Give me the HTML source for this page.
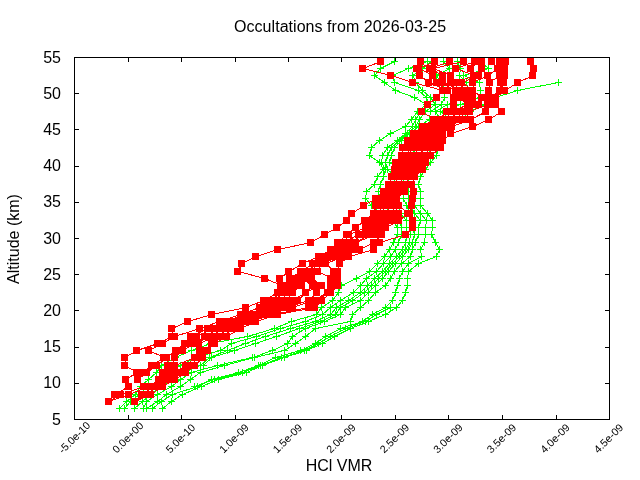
<!DOCTYPE html>
<html><head><meta charset="utf-8"><title>Occultations from 2026-03-25</title>
<style>html,body{margin:0;padding:0;background:#fff;overflow:hidden}svg{display:block}text{font-family:"Liberation Sans",sans-serif;fill:#000}</style></head><body>
<svg width="640" height="480" viewBox="0 0 640 480">
<rect width="640" height="480" fill="#fff"/>
<g stroke="#000" stroke-width="1" fill="none" shape-rendering="crispEdges"><path d="M74.5 383.5h4.5 M609.5 383.5h-4.5"/><path d="M128.5 419.5v-4.5 M128.5 57.5v4.5"/><path d="M74.5 347.5h4.5 M609.5 347.5h-4.5"/><path d="M181.5 419.5v-4.5 M181.5 57.5v4.5"/><path d="M74.5 310.5h4.5 M609.5 310.5h-4.5"/><path d="M235.5 419.5v-4.5 M235.5 57.5v4.5"/><path d="M74.5 274.5h4.5 M609.5 274.5h-4.5"/><path d="M288.5 419.5v-4.5 M288.5 57.5v4.5"/><path d="M74.5 238.5h4.5 M609.5 238.5h-4.5"/><path d="M341.5 419.5v-4.5 M341.5 57.5v4.5"/><path d="M74.5 202.5h4.5 M609.5 202.5h-4.5"/><path d="M395.5 419.5v-4.5 M395.5 57.5v4.5"/><path d="M74.5 166.5h4.5 M609.5 166.5h-4.5"/><path d="M448.5 419.5v-4.5 M448.5 57.5v4.5"/><path d="M74.5 129.5h4.5 M609.5 129.5h-4.5"/><path d="M502.5 419.5v-4.5 M502.5 57.5v4.5"/><path d="M74.5 93.5h4.5 M609.5 93.5h-4.5"/><path d="M556.5 419.5v-4.5 M556.5 57.5v4.5"/></g>
<defs><clipPath id="c"><rect x="74" y="57" width="536" height="363"/></clipPath></defs>
<g clip-path="url(#c)" shape-rendering="crispEdges"><path d="M119.5 408.5 L126.5 401.5 L135.5 394.5 L140.5 386.5 L148.5 379.5 L156.5 372.5 L161.5 365.5 L175.5 357.5 L191.5 350.5 L210.5 343.5 L247.5 336.5 L274.5 328.5 L291.5 321.5 L316.5 314.5 L321.5 307.5 L332.5 300.5 L338.5 292.5 L341.5 285.5 L356.5 278.5 L369.5 271.5 L377.5 263.5 L384.5 256.5 L389.5 249.5 L393.5 242.5 L397.5 234.5 L397.5 227.5 L392.5 220.5 L380.5 213.5 L371.5 205.5 L365.5 198.5 L366.5 191.5 L374.5 184.5 L377.5 176.5 L383.5 169.5 L379.5 162.5 L369.5 155.5 L371.5 147.5 L379.5 140.5 L390.5 133.5 L405.5 126.5 L411.5 119.5 L417.5 111.5 L426.5 104.5 L414.5 97.5 L395.5 90.5 L384.5 82.5 L374.5 75.5 L380.5 68.5 L394.5 61.5M124.5 408.5 L130.5 401.5 L139.5 394.5 L147.5 386.5 L160.5 379.5 L170.5 372.5 L180.5 365.5 L195.5 357.5 L220.5 350.5 L231.5 343.5 L256.5 336.5 L280.5 328.5 L305.5 321.5 L322.5 314.5 L330.5 307.5 L340.5 300.5 L353.5 292.5 L360.5 285.5 L366.5 278.5 L376.5 271.5 L383.5 263.5 L390.5 256.5 L395.5 249.5 L398.5 242.5 L401.5 234.5 L401.5 227.5 L398.5 220.5 L390.5 213.5 L385.5 205.5 L380.5 198.5 L378.0 191.5 L380.5 184.5 L383.5 176.5 L385.5 169.5 L381.5 162.5 L382.5 155.5 L387.5 147.5 L397.5 140.5 L405.5 133.5 L412.5 126.5 L415.5 119.5 L421.5 111.5 L428.5 104.5 L426.5 97.5 L418.5 90.5 L394.5 82.5 L392.5 75.5 L408.5 68.5 L427.5 61.5M134.5 408.5 L142.5 401.5 L150.5 394.5 L160.5 386.5 L172.5 379.5 L183.5 372.5 L200.5 365.5 L209.5 357.5 L227.5 350.5 L245.5 343.5 L265.5 336.5 L290.5 328.5 L315.5 321.5 L330.5 314.5 L336.5 307.5 L348.5 300.5 L360.5 292.5 L367.5 285.5 L374.5 278.5 L382.5 271.5 L389.5 263.5 L396.5 256.5 L402.5 249.5 L405.5 242.5 L407.5 234.5 L406.5 227.5 L406.5 220.5 L400.5 213.5 L398.5 205.5 L395.5 198.5 L392.5 191.5 L393.5 184.5 L395.5 176.5 L387.5 169.5 L385.5 162.5 L387.5 155.5 L391.5 147.5 L399.5 140.5 L407.5 133.5 L415.5 126.5 L419.5 119.5 L425.5 111.5 L435.5 104.5 L430.5 97.5 L422.5 90.5 L415.5 82.5 L413.0 75.5 L422.5 68.5 L431.5 61.5M143.5 408.5 L146.5 401.5 L157.5 394.5 L171.5 386.5 L180.5 379.5 L191.5 372.5 L217.5 365.5 L252.5 357.5 L272.5 350.5 L287.5 343.5 L292.5 336.5 L305.5 328.5 L324.5 321.5 L340.5 314.5 L345.5 307.5 L360.5 300.5 L368.5 292.5 L375.5 285.5 L382.5 278.5 L388.5 271.5 L395.5 263.5 L402.5 256.5 L408.5 249.5 L412.5 242.5 L414.5 234.5 L412.5 227.5 L413.5 220.5 L410.5 213.5 L406.5 205.5 L403.5 198.5 L402.5 191.5 L402.5 184.5 L404.5 176.5 L400.5 169.5 L389.5 162.5 L391.5 155.5 L394.5 147.5 L401.5 140.5 L409.5 133.5 L418.5 126.5 L429.5 119.5 L430.5 111.5 L441.5 104.5 L444.5 97.5 L445.5 90.5 L440.5 82.5 L436.5 75.5 L449.5 68.5 L443.5 61.5M146.5 408.5 L157.5 401.5 L166.5 394.5 L180.5 386.5 L190.5 379.5 L200.5 372.5 L224.5 365.5 L254.5 357.5 L284.5 350.5 L295.5 343.5 L305.5 336.5 L315.5 328.5 L350.5 321.5 L352.5 314.5 L360.5 307.5 L368.5 300.5 L375.5 292.5 L385.5 285.5 L390.5 278.5 L394.5 271.5 L401.5 263.5 L410.5 256.5 L412.5 249.5 L415.5 242.5 L418.5 234.5 L418.5 227.5 L420.5 220.5 L414.5 213.5 L410.5 205.5 L408.5 198.5 L408.5 191.5 L408.5 184.5 L409.5 176.5 L412.5 169.5 L410.5 162.5 L412.5 155.5 L415.5 147.5 L420.5 140.5 L425.5 133.5 L432.5 126.5 L440.5 119.5 L435.5 111.5 L447.5 104.5 L465.5 97.5 L468.0 90.5 L466.5 82.5 L459.5 75.5 L460.5 68.5 L457.5 61.5M152.5 408.5 L161.5 401.5 L172.5 394.5 L197.5 386.5 L211.5 379.5 L238.5 372.5 L258.5 365.5 L275.5 357.5 L300.5 350.5 L315.5 343.5 L325.5 336.5 L340.5 328.5 L362.5 321.5 L372.5 314.5 L385.5 307.5 L392.5 300.5 L395.5 292.5 L397.5 285.5 L399.5 278.5 L402.5 271.5 L408.5 263.5 L421.5 256.5 L420.5 249.5 L424.5 242.5 L425.5 234.5 L425.5 227.5 L426.5 220.5 L420.5 213.5 L414.5 205.5 L413.5 198.5 L413.5 191.5 L412.5 184.5 L414.5 176.5 L419.5 169.5 L422.5 162.5 L428.5 155.5 L430.5 147.5 L432.5 140.5 L436.5 133.5 L440.5 126.5 L450.5 119.5 L440.5 111.5 L460.5 104.5 L480.5 97.5 L480.5 90.5 L479.5 82.5 L463.5 75.5 L488.5 68.5 L480.5 61.5M162.5 408.5 L171.5 401.5 L182.5 394.5 L201.5 386.5 L218.5 379.5 L246.5 372.5 L262.5 365.5 L284.5 357.5 L306.5 350.5 L322.5 343.5 L334.5 336.5 L350.5 328.5 L368.5 321.5 L385.5 314.5 L396.5 307.5 L402.5 300.5 L405.5 292.5 L407.5 285.5 L407.5 278.5 L408.5 271.5 L418.5 263.5 L436.5 256.5 L439.5 249.5 L435.5 242.5 L431.5 234.5 L432.5 227.5 L432.5 220.5 L427.5 213.5 L420.5 205.5 L420.5 198.5 L420.5 191.5 L418.5 184.5 L420.5 176.5 L425.5 169.5 L430.5 162.5 L436.5 155.5 L438.5 147.5 L440.5 140.5 L442.5 133.5 L448.5 126.5 L460.5 119.5 L470.5 111.5 L484.5 104.5 L495.5 97.5 L517.5 90.5 L558.5 82.5M203.5 365.5 L211.5 357.5 L234.5 350.5 L255.5 343.5 L276.5 336.5 L299.5 328.5 L320.5 321.5 L335.5 314.5 L340.5 307.5 L352.5 300.5 L364.5 292.5 L371.5 285.5 L378.5 278.5 L385.5 271.5 L392.5 263.5 L399.5 256.5 L405.5 249.5 L409.5 242.5 L410.5 234.5M194.5 386.5 L214.5 379.5 L242.5 372.5 L260.5 365.5 L281.5 357.5 L304.5 350.5 L318.5 343.5 L330.5 336.5 L345.5 328.5 L365.5 321.5 L376.5 314.5 L390.5 307.5M116 408.5h7M119.5 405v7M123 401.5h7M126.5 398v7M132 394.5h7M135.5 391v7M137 386.5h7M140.5 383v7M145 379.5h7M148.5 376v7M153 372.5h7M156.5 369v7M158 365.5h7M161.5 362v7M172 357.5h7M175.5 354v7M188 350.5h7M191.5 347v7M207 343.5h7M210.5 340v7M244 336.5h7M247.5 333v7M271 328.5h7M274.5 325v7M288 321.5h7M291.5 318v7M313 314.5h7M316.5 311v7M318 307.5h7M321.5 304v7M329 300.5h7M332.5 297v7M335 292.5h7M338.5 289v7M338 285.5h7M341.5 282v7M353 278.5h7M356.5 275v7M366 271.5h7M369.5 268v7M374 263.5h7M377.5 260v7M381 256.5h7M384.5 253v7M386 249.5h7M389.5 246v7M390 242.5h7M393.5 239v7M394 234.5h7M397.5 231v7M394 227.5h7M397.5 224v7M389 220.5h7M392.5 217v7M377 213.5h7M380.5 210v7M368 205.5h7M371.5 202v7M362 198.5h7M365.5 195v7M363 191.5h7M366.5 188v7M371 184.5h7M374.5 181v7M374 176.5h7M377.5 173v7M380 169.5h7M383.5 166v7M376 162.5h7M379.5 159v7M366 155.5h7M369.5 152v7M368 147.5h7M371.5 144v7M376 140.5h7M379.5 137v7M387 133.5h7M390.5 130v7M402 126.5h7M405.5 123v7M408 119.5h7M411.5 116v7M414 111.5h7M417.5 108v7M423 104.5h7M426.5 101v7M411 97.5h7M414.5 94v7M392 90.5h7M395.5 87v7M381 82.5h7M384.5 79v7M371 75.5h7M374.5 72v7M377 68.5h7M380.5 65v7M391 61.5h7M394.5 58v7M121 408.5h7M124.5 405v7M127 401.5h7M130.5 398v7M136 394.5h7M139.5 391v7M144 386.5h7M147.5 383v7M157 379.5h7M160.5 376v7M167 372.5h7M170.5 369v7M177 365.5h7M180.5 362v7M192 357.5h7M195.5 354v7M217 350.5h7M220.5 347v7M228 343.5h7M231.5 340v7M253 336.5h7M256.5 333v7M277 328.5h7M280.5 325v7M302 321.5h7M305.5 318v7M319 314.5h7M322.5 311v7M327 307.5h7M330.5 304v7M337 300.5h7M340.5 297v7M350 292.5h7M353.5 289v7M357 285.5h7M360.5 282v7M363 278.5h7M366.5 275v7M373 271.5h7M376.5 268v7M380 263.5h7M383.5 260v7M387 256.5h7M390.5 253v7M392 249.5h7M395.5 246v7M395 242.5h7M398.5 239v7M398 234.5h7M401.5 231v7M398 227.5h7M401.5 224v7M395 220.5h7M398.5 217v7M387 213.5h7M390.5 210v7M382 205.5h7M385.5 202v7M377 198.5h7M380.5 195v7M375 191.5h7M378.5 188v7M377 184.5h7M380.5 181v7M380 176.5h7M383.5 173v7M382 169.5h7M385.5 166v7M378 162.5h7M381.5 159v7M379 155.5h7M382.5 152v7M384 147.5h7M387.5 144v7M394 140.5h7M397.5 137v7M402 133.5h7M405.5 130v7M409 126.5h7M412.5 123v7M412 119.5h7M415.5 116v7M418 111.5h7M421.5 108v7M425 104.5h7M428.5 101v7M423 97.5h7M426.5 94v7M415 90.5h7M418.5 87v7M391 82.5h7M394.5 79v7M389 75.5h7M392.5 72v7M405 68.5h7M408.5 65v7M424 61.5h7M427.5 58v7M131 408.5h7M134.5 405v7M139 401.5h7M142.5 398v7M147 394.5h7M150.5 391v7M157 386.5h7M160.5 383v7M169 379.5h7M172.5 376v7M180 372.5h7M183.5 369v7M197 365.5h7M200.5 362v7M206 357.5h7M209.5 354v7M224 350.5h7M227.5 347v7M242 343.5h7M245.5 340v7M262 336.5h7M265.5 333v7M287 328.5h7M290.5 325v7M312 321.5h7M315.5 318v7M327 314.5h7M330.5 311v7M333 307.5h7M336.5 304v7M345 300.5h7M348.5 297v7M357 292.5h7M360.5 289v7M364 285.5h7M367.5 282v7M371 278.5h7M374.5 275v7M379 271.5h7M382.5 268v7M386 263.5h7M389.5 260v7M393 256.5h7M396.5 253v7M399 249.5h7M402.5 246v7M402 242.5h7M405.5 239v7M404 234.5h7M407.5 231v7M403 227.5h7M406.5 224v7M403 220.5h7M406.5 217v7M397 213.5h7M400.5 210v7M395 205.5h7M398.5 202v7M392 198.5h7M395.5 195v7M389 191.5h7M392.5 188v7M390 184.5h7M393.5 181v7M392 176.5h7M395.5 173v7M384 169.5h7M387.5 166v7M382 162.5h7M385.5 159v7M384 155.5h7M387.5 152v7M388 147.5h7M391.5 144v7M396 140.5h7M399.5 137v7M404 133.5h7M407.5 130v7M412 126.5h7M415.5 123v7M416 119.5h7M419.5 116v7M422 111.5h7M425.5 108v7M432 104.5h7M435.5 101v7M427 97.5h7M430.5 94v7M419 90.5h7M422.5 87v7M412 82.5h7M415.5 79v7M409 75.5h7M412.5 72v7M419 68.5h7M422.5 65v7M428 61.5h7M431.5 58v7M140 408.5h7M143.5 405v7M143 401.5h7M146.5 398v7M154 394.5h7M157.5 391v7M168 386.5h7M171.5 383v7M177 379.5h7M180.5 376v7M188 372.5h7M191.5 369v7M214 365.5h7M217.5 362v7M249 357.5h7M252.5 354v7M269 350.5h7M272.5 347v7M284 343.5h7M287.5 340v7M289 336.5h7M292.5 333v7M302 328.5h7M305.5 325v7M321 321.5h7M324.5 318v7M337 314.5h7M340.5 311v7M342 307.5h7M345.5 304v7M357 300.5h7M360.5 297v7M365 292.5h7M368.5 289v7M372 285.5h7M375.5 282v7M379 278.5h7M382.5 275v7M385 271.5h7M388.5 268v7M392 263.5h7M395.5 260v7M399 256.5h7M402.5 253v7M405 249.5h7M408.5 246v7M409 242.5h7M412.5 239v7M411 234.5h7M414.5 231v7M409 227.5h7M412.5 224v7M410 220.5h7M413.5 217v7M407 213.5h7M410.5 210v7M403 205.5h7M406.5 202v7M400 198.5h7M403.5 195v7M399 191.5h7M402.5 188v7M399 184.5h7M402.5 181v7M401 176.5h7M404.5 173v7M397 169.5h7M400.5 166v7M386 162.5h7M389.5 159v7M388 155.5h7M391.5 152v7M391 147.5h7M394.5 144v7M398 140.5h7M401.5 137v7M406 133.5h7M409.5 130v7M415 126.5h7M418.5 123v7M426 119.5h7M429.5 116v7M427 111.5h7M430.5 108v7M438 104.5h7M441.5 101v7M441 97.5h7M444.5 94v7M442 90.5h7M445.5 87v7M437 82.5h7M440.5 79v7M433 75.5h7M436.5 72v7M446 68.5h7M449.5 65v7M440 61.5h7M443.5 58v7M143 408.5h7M146.5 405v7M154 401.5h7M157.5 398v7M163 394.5h7M166.5 391v7M177 386.5h7M180.5 383v7M187 379.5h7M190.5 376v7M197 372.5h7M200.5 369v7M221 365.5h7M224.5 362v7M251 357.5h7M254.5 354v7M281 350.5h7M284.5 347v7M292 343.5h7M295.5 340v7M302 336.5h7M305.5 333v7M312 328.5h7M315.5 325v7M347 321.5h7M350.5 318v7M349 314.5h7M352.5 311v7M357 307.5h7M360.5 304v7M365 300.5h7M368.5 297v7M372 292.5h7M375.5 289v7M382 285.5h7M385.5 282v7M387 278.5h7M390.5 275v7M391 271.5h7M394.5 268v7M398 263.5h7M401.5 260v7M407 256.5h7M410.5 253v7M409 249.5h7M412.5 246v7M412 242.5h7M415.5 239v7M415 234.5h7M418.5 231v7M415 227.5h7M418.5 224v7M417 220.5h7M420.5 217v7M411 213.5h7M414.5 210v7M407 205.5h7M410.5 202v7M405 198.5h7M408.5 195v7M405 191.5h7M408.5 188v7M405 184.5h7M408.5 181v7M406 176.5h7M409.5 173v7M409 169.5h7M412.5 166v7M407 162.5h7M410.5 159v7M409 155.5h7M412.5 152v7M412 147.5h7M415.5 144v7M417 140.5h7M420.5 137v7M422 133.5h7M425.5 130v7M429 126.5h7M432.5 123v7M437 119.5h7M440.5 116v7M432 111.5h7M435.5 108v7M444 104.5h7M447.5 101v7M462 97.5h7M465.5 94v7M465 90.5h7M468.5 87v7M463 82.5h7M466.5 79v7M456 75.5h7M459.5 72v7M457 68.5h7M460.5 65v7M454 61.5h7M457.5 58v7M149 408.5h7M152.5 405v7M158 401.5h7M161.5 398v7M169 394.5h7M172.5 391v7M194 386.5h7M197.5 383v7M208 379.5h7M211.5 376v7M235 372.5h7M238.5 369v7M255 365.5h7M258.5 362v7M272 357.5h7M275.5 354v7M297 350.5h7M300.5 347v7M312 343.5h7M315.5 340v7M322 336.5h7M325.5 333v7M337 328.5h7M340.5 325v7M359 321.5h7M362.5 318v7M369 314.5h7M372.5 311v7M382 307.5h7M385.5 304v7M389 300.5h7M392.5 297v7M392 292.5h7M395.5 289v7M394 285.5h7M397.5 282v7M396 278.5h7M399.5 275v7M399 271.5h7M402.5 268v7M405 263.5h7M408.5 260v7M418 256.5h7M421.5 253v7M417 249.5h7M420.5 246v7M421 242.5h7M424.5 239v7M422 234.5h7M425.5 231v7M422 227.5h7M425.5 224v7M423 220.5h7M426.5 217v7M417 213.5h7M420.5 210v7M411 205.5h7M414.5 202v7M410 198.5h7M413.5 195v7M410 191.5h7M413.5 188v7M409 184.5h7M412.5 181v7M411 176.5h7M414.5 173v7M416 169.5h7M419.5 166v7M419 162.5h7M422.5 159v7M425 155.5h7M428.5 152v7M427 147.5h7M430.5 144v7M429 140.5h7M432.5 137v7M433 133.5h7M436.5 130v7M437 126.5h7M440.5 123v7M447 119.5h7M450.5 116v7M437 111.5h7M440.5 108v7M457 104.5h7M460.5 101v7M477 97.5h7M480.5 94v7M477 90.5h7M480.5 87v7M476 82.5h7M479.5 79v7M460 75.5h7M463.5 72v7M485 68.5h7M488.5 65v7M477 61.5h7M480.5 58v7M159 408.5h7M162.5 405v7M168 401.5h7M171.5 398v7M179 394.5h7M182.5 391v7M198 386.5h7M201.5 383v7M215 379.5h7M218.5 376v7M243 372.5h7M246.5 369v7M259 365.5h7M262.5 362v7M281 357.5h7M284.5 354v7M303 350.5h7M306.5 347v7M319 343.5h7M322.5 340v7M331 336.5h7M334.5 333v7M347 328.5h7M350.5 325v7M365 321.5h7M368.5 318v7M382 314.5h7M385.5 311v7M393 307.5h7M396.5 304v7M399 300.5h7M402.5 297v7M402 292.5h7M405.5 289v7M404 285.5h7M407.5 282v7M404 278.5h7M407.5 275v7M405 271.5h7M408.5 268v7M415 263.5h7M418.5 260v7M433 256.5h7M436.5 253v7M436 249.5h7M439.5 246v7M432 242.5h7M435.5 239v7M428 234.5h7M431.5 231v7M429 227.5h7M432.5 224v7M429 220.5h7M432.5 217v7M424 213.5h7M427.5 210v7M417 205.5h7M420.5 202v7M417 198.5h7M420.5 195v7M417 191.5h7M420.5 188v7M415 184.5h7M418.5 181v7M417 176.5h7M420.5 173v7M422 169.5h7M425.5 166v7M427 162.5h7M430.5 159v7M433 155.5h7M436.5 152v7M435 147.5h7M438.5 144v7M437 140.5h7M440.5 137v7M439 133.5h7M442.5 130v7M445 126.5h7M448.5 123v7M457 119.5h7M460.5 116v7M467 111.5h7M470.5 108v7M481 104.5h7M484.5 101v7M492 97.5h7M495.5 94v7M514 90.5h7M517.5 87v7M555 82.5h7M558.5 79v7M200 365.5h7M203.5 362v7M208 357.5h7M211.5 354v7M231 350.5h7M234.5 347v7M252 343.5h7M255.5 340v7M273 336.5h7M276.5 333v7M296 328.5h7M299.5 325v7M317 321.5h7M320.5 318v7M332 314.5h7M335.5 311v7M337 307.5h7M340.5 304v7M349 300.5h7M352.5 297v7M361 292.5h7M364.5 289v7M368 285.5h7M371.5 282v7M375 278.5h7M378.5 275v7M382 271.5h7M385.5 268v7M389 263.5h7M392.5 260v7M396 256.5h7M399.5 253v7M402 249.5h7M405.5 246v7M406 242.5h7M409.5 239v7M407 234.5h7M410.5 231v7M191 386.5h7M194.5 383v7M211 379.5h7M214.5 376v7M239 372.5h7M242.5 369v7M257 365.5h7M260.5 362v7M278 357.5h7M281.5 354v7M301 350.5h7M304.5 347v7M315 343.5h7M318.5 340v7M327 336.5h7M330.5 333v7M342 328.5h7M345.5 325v7M362 321.5h7M365.5 318v7M373 314.5h7M376.5 311v7M387 307.5h7M390.5 304v7" stroke="#00ff00" stroke-width="1" fill="none"/>
<path d="M115.0 394.5L109.0 401.5M121.0 394.5L109.0 401.5M129.0 394.5L109.0 401.5M142.0 394.5L135.0 401.5M146.5 394.5L135.0 401.5M151.0 394.5L135.0 401.5M115.0 394.5L129.0 386.5M121.0 394.5L144.0 386.5M129.0 394.5L148.8 386.5M142.0 394.5L153.5 386.5M146.5 394.5L158.2 386.5M151.0 394.5L163.0 386.5M129.0 386.5L126.0 379.5M144.0 386.5L138.0 379.5M148.8 386.5L159.0 379.5M153.5 386.5L164.3 379.5M158.2 386.5L169.7 379.5M163.0 386.5L175.0 379.5M137.0 372.5L126.0 379.5M142.0 372.5L138.0 379.5M147.0 372.5L138.0 379.5M163.0 372.5L159.0 379.5M168.8 372.5L164.3 379.5M174.5 372.5L169.7 379.5M180.2 372.5L169.7 379.5M186.0 372.5L175.0 379.5M125.0 365.5L137.0 372.5M152.0 365.5L142.0 372.5M157.0 365.5L147.0 372.5M168.0 365.5L163.0 372.5M171.5 365.5L168.8 372.5M175.0 365.5L168.8 372.5M186.0 365.5L174.5 372.5M190.5 365.5L180.2 372.5M195.0 365.5L186.0 372.5M125.0 365.5L125.0 357.5M152.0 365.5L164.0 357.5M157.0 365.5L167.0 357.5M168.0 365.5L167.0 357.5M171.5 365.5L175.0 357.5M175.0 365.5L195.0 357.5M186.0 365.5L195.0 357.5M190.5 365.5L199.0 357.5M195.0 365.5L203.0 357.5M137.0 350.5L125.0 357.5M149.0 350.5L164.0 357.5M176.0 350.5L167.0 357.5M179.5 350.5L175.0 357.5M183.0 350.5L175.0 357.5M200.0 350.5L195.0 357.5M204.0 350.5L199.0 357.5M208.0 350.5L203.0 357.5M137.0 350.5L158.0 343.5M149.0 350.5L163.0 343.5M176.0 350.5L185.0 343.5M179.5 350.5L189.8 343.5M183.0 350.5L194.7 343.5M200.0 350.5L199.5 343.5M204.0 350.5L212.0 343.5M208.0 350.5L214.5 343.5M172.0 336.5L158.0 343.5M174.5 336.5L163.0 343.5M191.0 336.5L185.0 343.5M197.0 336.5L189.8 343.5M205.0 336.5L194.7 343.5M210.5 336.5L194.7 343.5M216.0 336.5L199.5 343.5M221.5 336.5L212.0 343.5M227.0 336.5L214.5 343.5M172.0 336.5L172.0 328.5M174.5 336.5L200.0 328.5M191.0 336.5L208.0 328.5M197.0 336.5L213.5 328.5M205.0 336.5L219.0 328.5M210.5 336.5L224.5 328.5M216.0 336.5L230.0 328.5M221.5 336.5L235.5 328.5M227.0 336.5L241.0 328.5M172.0 328.5L188.0 321.5M200.0 328.5L219.6 321.5M208.0 328.5L224.8 321.5M213.5 328.5L230.0 321.5M219.0 328.5L235.2 321.5M224.5 328.5L240.4 321.5M230.0 328.5L245.6 321.5M235.5 328.5L250.8 321.5M241.0 328.5L256.0 321.5M188.0 321.5L212.0 314.5M219.6 321.5L241.0 314.5M224.8 321.5L246.3 314.5M230.0 321.5L251.6 314.5M235.2 321.5L256.9 314.5M240.4 321.5L262.1 314.5M245.6 321.5L267.4 314.5M250.8 321.5L272.7 314.5M256.0 321.5L278.0 314.5M246.0 307.5L212.0 314.5M259.6 307.5L241.0 314.5M265.1 307.5L246.3 314.5M270.6 307.5L251.6 314.5M276.1 307.5L256.9 314.5M281.6 307.5L256.9 314.5M287.1 307.5L262.1 314.5M292.6 307.5L267.4 314.5M309.0 307.5L272.7 314.5M315.0 307.5L278.0 314.5M264.0 300.5L246.0 307.5M269.7 300.5L259.6 307.5M275.3 300.5L265.1 307.5M281.0 300.5L270.6 307.5M286.7 300.5L276.1 307.5M292.3 300.5L276.1 307.5M298.0 300.5L281.6 307.5M309.0 300.5L287.1 307.5M313.3 300.5L292.6 307.5M317.7 300.5L309.0 307.5M322.0 300.5L315.0 307.5M264.0 300.5L277.8 292.5M269.7 300.5L282.7 292.5M275.3 300.5L282.7 292.5M281.0 300.5L287.7 292.5M286.7 300.5L292.6 292.5M292.3 300.5L306.2 292.5M298.0 300.5L306.2 292.5M309.0 300.5L316.8 292.5M313.3 300.5L328.0 292.5M317.7 300.5L328.0 292.5M322.0 300.5L331.0 292.5M281.5 285.5L277.8 292.5M286.6 285.5L282.7 292.5M291.8 285.5L282.7 292.5M296.9 285.5L287.7 292.5M302.0 285.5L292.6 292.5M312.5 285.5L306.2 292.5M320.0 285.5L306.2 292.5M322.0 285.5L316.8 292.5M331.0 285.5L328.0 292.5M334.5 285.5L328.0 292.5M338.0 285.5L331.0 292.5M281.5 285.5L265.0 278.5M286.6 285.5L280.0 278.5M291.8 285.5L290.0 278.5M296.9 285.5L295.5 278.5M302.0 285.5L301.0 278.5M312.5 285.5L301.0 278.5M320.0 285.5L306.5 278.5M322.0 285.5L312.0 278.5M331.0 285.5L331.5 278.5M334.5 285.5L334.8 278.5M338.0 285.5L338.0 278.5M265.0 278.5L238.0 271.5M280.0 278.5L289.2 271.5M290.0 278.5L301.0 271.5M295.5 278.5L301.0 271.5M301.0 278.5L306.7 271.5M306.5 278.5L312.3 271.5M312.0 278.5L318.0 271.5M331.5 278.5L318.0 271.5M334.8 278.5L334.0 271.5M338.0 278.5L338.0 271.5M238.0 271.5L242.0 263.5M289.2 271.5L302.8 263.5M301.0 271.5L313.0 263.5M306.7 271.5L317.3 263.5M312.3 271.5L317.3 263.5M318.0 271.5L321.7 263.5M334.0 271.5L326.0 263.5M338.0 271.5L339.6 263.5M256.0 256.5L242.0 263.5M319.0 256.5L302.8 263.5M324.1 256.5L313.0 263.5M329.2 256.5L317.3 263.5M334.2 256.5L317.3 263.5M339.3 256.5L321.7 263.5M344.4 256.5L326.0 263.5M349.5 256.5L339.6 263.5M256.0 256.5L278.0 249.5M319.0 256.5L331.0 249.5M324.1 256.5L336.8 249.5M329.2 256.5L342.6 249.5M334.2 256.5L348.4 249.5M339.3 256.5L354.2 249.5M344.4 256.5L360.0 249.5M349.5 256.5L374.0 249.5M278.0 249.5L311.0 242.5M331.0 249.5L338.0 242.5M336.8 249.5L344.0 242.5M342.6 249.5L350.0 242.5M348.4 249.5L350.0 242.5M354.2 249.5L356.0 242.5M360.0 249.5L374.0 242.5M374.0 249.5L380.0 242.5M325.0 234.5L311.0 242.5M347.0 234.5L338.0 242.5M349.5 234.5L344.0 242.5M359.0 234.5L344.0 242.5M364.8 234.5L350.0 242.5M370.5 234.5L356.0 242.5M376.2 234.5L356.0 242.5M382.0 234.5L374.0 242.5M406.0 234.5L380.0 242.5M325.0 234.5L337.0 227.5M347.0 234.5L356.0 227.5M349.5 234.5L366.0 227.5M359.0 234.5L371.0 227.5M364.8 234.5L376.0 227.5M370.5 234.5L376.0 227.5M376.2 234.5L381.0 227.5M382.0 234.5L386.0 227.5M406.0 234.5L413.0 227.5M347.0 220.5L337.0 227.5M365.0 220.5L356.0 227.5M370.8 220.5L366.0 227.5M376.5 220.5L371.0 227.5M382.2 220.5L376.0 227.5M388.0 220.5L376.0 227.5M393.8 220.5L381.0 227.5M399.5 220.5L386.0 227.5M413.5 220.5L413.0 227.5M347.0 220.5L352.0 213.5M365.0 220.5L374.0 213.5M370.8 220.5L379.1 213.5M376.5 220.5L384.2 213.5M382.2 220.5L389.3 213.5M388.0 220.5L394.4 213.5M393.8 220.5L399.5 213.5M399.5 220.5L408.0 213.5M413.5 220.5L410.0 213.5M352.0 213.5L364.0 205.5M374.0 213.5L376.0 205.5M379.1 213.5L381.9 205.5M384.2 213.5L381.9 205.5M389.3 213.5L387.8 205.5M394.4 213.5L393.6 205.5M399.5 213.5L393.6 205.5M408.0 213.5L399.5 205.5M410.0 213.5L412.0 205.5M364.0 205.5L376.0 198.5M376.0 205.5L381.2 198.5M381.9 205.5L386.5 198.5M387.8 205.5L386.5 198.5M393.6 205.5L391.8 198.5M399.5 205.5L397.0 198.5M412.0 205.5L413.5 198.5M376.0 198.5L384.0 191.5M381.2 198.5L389.1 191.5M386.5 198.5L394.2 191.5M391.8 198.5L399.4 191.5M397.0 198.5L404.5 191.5M413.5 198.5L414.0 191.5M384.0 191.5L389.0 184.5M389.1 191.5L394.8 184.5M394.2 191.5L400.5 184.5M399.4 191.5L400.5 184.5M404.5 191.5L406.2 184.5M414.0 191.5L412.0 184.5M389.0 184.5L392.0 176.5M394.8 184.5L397.6 176.5M400.5 184.5L403.2 176.5M406.2 184.5L408.9 176.5M412.0 184.5L414.5 176.5M395.0 169.5L392.0 176.5M400.6 169.5L397.6 176.5M406.2 169.5L403.2 176.5M411.8 169.5L403.2 176.5M417.4 169.5L408.9 176.5M423.0 169.5L414.5 176.5M395.0 169.5L396.0 162.5M400.6 169.5L402.0 162.5M406.2 169.5L408.0 162.5M411.8 169.5L414.0 162.5M417.4 169.5L420.0 162.5M423.0 169.5L426.0 162.5M396.0 162.5L402.0 155.5M402.0 162.5L407.8 155.5M408.0 162.5L413.6 155.5M414.0 162.5L419.4 155.5M420.0 162.5L425.2 155.5M426.0 162.5L431.0 155.5M403.0 147.5L402.0 155.5M408.4 147.5L407.8 155.5M413.9 147.5L407.8 155.5M419.3 147.5L413.6 155.5M424.7 147.5L419.4 155.5M430.1 147.5L425.2 155.5M435.6 147.5L425.2 155.5M441.0 147.5L431.0 155.5M403.0 147.5L408.0 140.5M408.4 147.5L413.8 140.5M413.9 147.5L419.5 140.5M419.3 147.5L425.3 140.5M424.7 147.5L425.3 140.5M430.1 147.5L431.1 140.5M435.6 147.5L436.8 140.5M441.0 147.5L442.6 140.5M408.0 140.5L414.0 133.5M413.8 140.5L419.8 133.5M419.5 140.5L425.6 133.5M425.3 140.5L431.4 133.5M431.1 140.5L437.2 133.5M436.8 140.5L443.0 133.5M442.6 140.5L451.0 133.5M414.0 133.5L423.0 126.5M419.8 133.5L428.8 126.5M425.6 133.5L434.6 126.5M431.4 133.5L440.4 126.5M437.2 133.5L446.2 126.5M443.0 133.5L452.0 126.5M451.0 133.5L473.0 126.5M434.0 119.5L423.0 126.5M439.3 119.5L428.8 126.5M444.6 119.5L434.6 126.5M449.9 119.5L434.6 126.5M455.1 119.5L440.4 126.5M460.4 119.5L446.2 126.5M465.7 119.5L446.2 126.5M471.0 119.5L452.0 126.5M489.0 119.5L473.0 126.5M434.0 119.5L422.0 111.5M439.3 119.5L446.5 111.5M444.6 119.5L452.4 111.5M449.9 119.5L458.2 111.5M455.1 119.5L464.1 111.5M460.4 119.5L464.1 111.5M465.7 119.5L470.0 111.5M471.0 119.5L486.2 111.5M489.0 119.5L502.0 111.5M422.0 111.5L428.0 104.5M446.5 111.5L453.8 104.5M452.4 111.5L468.0 104.5M458.2 111.5L473.8 104.5M464.1 111.5L479.5 104.5M470.0 111.5L488.0 104.5M486.2 111.5L492.0 104.5M502.0 111.5L496.0 104.5M437.0 97.5L428.0 104.5M454.0 97.5L453.8 104.5M458.8 97.5L468.0 104.5M463.5 97.5L468.0 104.5M468.2 97.5L473.8 104.5M473.0 97.5L479.5 104.5M482.0 97.5L488.0 104.5M486.7 97.5L488.0 104.5M491.3 97.5L492.0 104.5M496.0 97.5L496.0 104.5M437.0 97.5L443.0 90.5M454.0 97.5L448.0 90.5M458.8 97.5L456.0 90.5M463.5 97.5L461.7 90.5M468.2 97.5L467.3 90.5M473.0 97.5L467.3 90.5M482.0 97.5L473.0 90.5M486.7 97.5L489.2 90.5M491.3 97.5L500.0 90.5M496.0 97.5L505.0 90.5M413.0 82.5L443.0 90.5M429.0 82.5L448.0 90.5M436.5 82.5L448.0 90.5M439.8 82.5L456.0 90.5M443.0 82.5L461.7 90.5M451.0 82.5L461.7 90.5M456.5 82.5L467.3 90.5M462.0 82.5L473.0 90.5M473.0 82.5L473.0 90.5M489.6 82.5L489.2 90.5M501.5 82.5L500.0 90.5M504.0 82.5L500.0 90.5M518.0 82.5L505.0 90.5M413.0 82.5L391.0 75.5M429.0 82.5L420.0 75.5M436.5 82.5L432.5 75.5M439.8 82.5L432.5 75.5M443.0 82.5L442.8 75.5M451.0 82.5L451.2 75.5M456.5 82.5L474.0 75.5M462.0 82.5L479.5 75.5M473.0 82.5L488.0 75.5M489.6 82.5L500.0 75.5M501.5 82.5L500.0 75.5M504.0 82.5L504.5 75.5M518.0 82.5L533.0 75.5M363.0 68.5L391.0 75.5M417.0 68.5L420.0 75.5M419.0 68.5L432.5 75.5M430.0 68.5L442.8 75.5M433.0 68.5L451.2 75.5M456.2 68.5L474.0 75.5M471.5 68.5L474.0 75.5M482.0 68.5L479.5 75.5M498.0 68.5L488.0 75.5M501.2 68.5L500.0 75.5M504.5 68.5L504.5 75.5M534.0 68.5L533.0 75.5M363.0 68.5L381.0 61.5M417.0 68.5L421.0 61.5M419.0 68.5L434.6 61.5M430.0 68.5L450.0 61.5M433.0 68.5L464.0 61.5M456.2 68.5L475.0 61.5M471.5 68.5L478.5 61.5M482.0 68.5L482.0 61.5M498.0 68.5L492.0 61.5M501.2 68.5L500.0 61.5M504.5 68.5L506.0 61.5M534.0 68.5L531.0 61.5" stroke="#ff0000" stroke-width="1" fill="none"/>
<path d="M105 398h7v7h-7zM131 398h7v7h-7zM111 391h7v7h-7zM117 391h7v7h-7zM125 391h7v7h-7zM138 391h7v7h-7zM143 391h7v7h-7zM147 391h7v7h-7zM125 383h7v7h-7zM140 383h7v7h-7zM145 383h7v7h-7zM149 383h7v7h-7zM154 383h7v7h-7zM159 383h7v7h-7zM122 376h7v7h-7zM134 376h7v7h-7zM155 376h7v7h-7zM160 376h7v7h-7zM166 376h7v7h-7zM171 376h7v7h-7zM133 369h7v7h-7zM138 369h7v7h-7zM143 369h7v7h-7zM159 369h7v7h-7zM165 369h7v7h-7zM171 369h7v7h-7zM176 369h7v7h-7zM182 369h7v7h-7zM121 362h7v7h-7zM148 362h7v7h-7zM153 362h7v7h-7zM164 362h7v7h-7zM167 362h7v7h-7zM171 362h7v7h-7zM182 362h7v7h-7zM187 362h7v7h-7zM191 362h7v7h-7zM121 354h7v7h-7zM160 354h7v7h-7zM163 354h7v7h-7zM171 354h7v7h-7zM191 354h7v7h-7zM195 354h7v7h-7zM199 354h7v7h-7zM133 347h7v7h-7zM145 347h7v7h-7zM172 347h7v7h-7zM175 347h7v7h-7zM179 347h7v7h-7zM196 347h7v7h-7zM200 347h7v7h-7zM204 347h7v7h-7zM154 340h7v7h-7zM159 340h7v7h-7zM181 340h7v7h-7zM186 340h7v7h-7zM191 340h7v7h-7zM195 340h7v7h-7zM208 340h7v7h-7zM211 340h7v7h-7zM168 333h7v7h-7zM171 333h7v7h-7zM187 333h7v7h-7zM193 333h7v7h-7zM201 333h7v7h-7zM207 333h7v7h-7zM212 333h7v7h-7zM217 333h7v7h-7zM223 333h7v7h-7zM168 325h7v7h-7zM196 325h7v7h-7zM204 325h7v7h-7zM209 325h7v7h-7zM215 325h7v7h-7zM221 325h7v7h-7zM226 325h7v7h-7zM231 325h7v7h-7zM237 325h7v7h-7zM184 318h7v7h-7zM216 318h7v7h-7zM221 318h7v7h-7zM226 318h7v7h-7zM231 318h7v7h-7zM236 318h7v7h-7zM242 318h7v7h-7zM247 318h7v7h-7zM252 318h7v7h-7zM208 311h7v7h-7zM237 311h7v7h-7zM242 311h7v7h-7zM248 311h7v7h-7zM253 311h7v7h-7zM258 311h7v7h-7zM263 311h7v7h-7zM269 311h7v7h-7zM274 311h7v7h-7zM242 304h7v7h-7zM256 304h7v7h-7zM261 304h7v7h-7zM267 304h7v7h-7zM272 304h7v7h-7zM278 304h7v7h-7zM283 304h7v7h-7zM289 304h7v7h-7zM305 304h7v7h-7zM311 304h7v7h-7zM260 297h7v7h-7zM266 297h7v7h-7zM271 297h7v7h-7zM277 297h7v7h-7zM283 297h7v7h-7zM288 297h7v7h-7zM294 297h7v7h-7zM305 297h7v7h-7zM309 297h7v7h-7zM314 297h7v7h-7zM318 297h7v7h-7zM274 289h7v7h-7zM279 289h7v7h-7zM284 289h7v7h-7zM289 289h7v7h-7zM302 289h7v7h-7zM313 289h7v7h-7zM324 289h7v7h-7zM327 289h7v7h-7zM277 282h7v7h-7zM283 282h7v7h-7zM288 282h7v7h-7zM293 282h7v7h-7zM298 282h7v7h-7zM309 282h7v7h-7zM316 282h7v7h-7zM318 282h7v7h-7zM327 282h7v7h-7zM331 282h7v7h-7zM334 282h7v7h-7zM261 275h7v7h-7zM276 275h7v7h-7zM286 275h7v7h-7zM291 275h7v7h-7zM297 275h7v7h-7zM303 275h7v7h-7zM308 275h7v7h-7zM327 275h7v7h-7zM331 275h7v7h-7zM334 275h7v7h-7zM234 268h7v7h-7zM285 268h7v7h-7zM297 268h7v7h-7zM303 268h7v7h-7zM308 268h7v7h-7zM314 268h7v7h-7zM330 268h7v7h-7zM334 268h7v7h-7zM238 260h7v7h-7zM299 260h7v7h-7zM309 260h7v7h-7zM313 260h7v7h-7zM318 260h7v7h-7zM322 260h7v7h-7zM336 260h7v7h-7zM252 253h7v7h-7zM315 253h7v7h-7zM320 253h7v7h-7zM325 253h7v7h-7zM330 253h7v7h-7zM335 253h7v7h-7zM340 253h7v7h-7zM345 253h7v7h-7zM274 246h7v7h-7zM327 246h7v7h-7zM333 246h7v7h-7zM339 246h7v7h-7zM344 246h7v7h-7zM350 246h7v7h-7zM356 246h7v7h-7zM370 246h7v7h-7zM307 239h7v7h-7zM334 239h7v7h-7zM340 239h7v7h-7zM346 239h7v7h-7zM352 239h7v7h-7zM370 239h7v7h-7zM376 239h7v7h-7zM321 231h7v7h-7zM343 231h7v7h-7zM345 231h7v7h-7zM355 231h7v7h-7zM361 231h7v7h-7zM367 231h7v7h-7zM372 231h7v7h-7zM378 231h7v7h-7zM402 231h7v7h-7zM333 224h7v7h-7zM352 224h7v7h-7zM362 224h7v7h-7zM367 224h7v7h-7zM372 224h7v7h-7zM377 224h7v7h-7zM382 224h7v7h-7zM409 224h7v7h-7zM343 217h7v7h-7zM361 217h7v7h-7zM367 217h7v7h-7zM373 217h7v7h-7zM378 217h7v7h-7zM384 217h7v7h-7zM390 217h7v7h-7zM395 217h7v7h-7zM409 217h7v7h-7zM348 210h7v7h-7zM370 210h7v7h-7zM375 210h7v7h-7zM380 210h7v7h-7zM385 210h7v7h-7zM390 210h7v7h-7zM395 210h7v7h-7zM404 210h7v7h-7zM406 210h7v7h-7zM360 202h7v7h-7zM372 202h7v7h-7zM378 202h7v7h-7zM384 202h7v7h-7zM390 202h7v7h-7zM395 202h7v7h-7zM408 202h7v7h-7zM372 195h7v7h-7zM377 195h7v7h-7zM383 195h7v7h-7zM388 195h7v7h-7zM393 195h7v7h-7zM409 195h7v7h-7zM380 188h7v7h-7zM385 188h7v7h-7zM390 188h7v7h-7zM395 188h7v7h-7zM401 188h7v7h-7zM410 188h7v7h-7zM385 181h7v7h-7zM391 181h7v7h-7zM397 181h7v7h-7zM402 181h7v7h-7zM408 181h7v7h-7zM388 173h7v7h-7zM394 173h7v7h-7zM399 173h7v7h-7zM405 173h7v7h-7zM411 173h7v7h-7zM391 166h7v7h-7zM397 166h7v7h-7zM402 166h7v7h-7zM408 166h7v7h-7zM413 166h7v7h-7zM419 166h7v7h-7zM392 159h7v7h-7zM398 159h7v7h-7zM404 159h7v7h-7zM410 159h7v7h-7zM416 159h7v7h-7zM422 159h7v7h-7zM398 152h7v7h-7zM404 152h7v7h-7zM410 152h7v7h-7zM415 152h7v7h-7zM421 152h7v7h-7zM427 152h7v7h-7zM399 144h7v7h-7zM404 144h7v7h-7zM410 144h7v7h-7zM415 144h7v7h-7zM421 144h7v7h-7zM426 144h7v7h-7zM432 144h7v7h-7zM437 144h7v7h-7zM404 137h7v7h-7zM410 137h7v7h-7zM416 137h7v7h-7zM421 137h7v7h-7zM427 137h7v7h-7zM433 137h7v7h-7zM439 137h7v7h-7zM410 130h7v7h-7zM416 130h7v7h-7zM422 130h7v7h-7zM427 130h7v7h-7zM433 130h7v7h-7zM439 130h7v7h-7zM447 130h7v7h-7zM419 123h7v7h-7zM425 123h7v7h-7zM431 123h7v7h-7zM436 123h7v7h-7zM442 123h7v7h-7zM448 123h7v7h-7zM469 123h7v7h-7zM430 116h7v7h-7zM435 116h7v7h-7zM441 116h7v7h-7zM446 116h7v7h-7zM451 116h7v7h-7zM456 116h7v7h-7zM462 116h7v7h-7zM467 116h7v7h-7zM485 116h7v7h-7zM418 108h7v7h-7zM443 108h7v7h-7zM448 108h7v7h-7zM454 108h7v7h-7zM460 108h7v7h-7zM466 108h7v7h-7zM482 108h7v7h-7zM498 108h7v7h-7zM424 101h7v7h-7zM450 101h7v7h-7zM464 101h7v7h-7zM470 101h7v7h-7zM475 101h7v7h-7zM484 101h7v7h-7zM488 101h7v7h-7zM492 101h7v7h-7zM433 94h7v7h-7zM450 94h7v7h-7zM455 94h7v7h-7zM459 94h7v7h-7zM464 94h7v7h-7zM469 94h7v7h-7zM478 94h7v7h-7zM483 94h7v7h-7zM487 94h7v7h-7zM492 94h7v7h-7zM439 87h7v7h-7zM444 87h7v7h-7zM452 87h7v7h-7zM458 87h7v7h-7zM463 87h7v7h-7zM469 87h7v7h-7zM485 87h7v7h-7zM496 87h7v7h-7zM501 87h7v7h-7zM409 79h7v7h-7zM425 79h7v7h-7zM433 79h7v7h-7zM436 79h7v7h-7zM439 79h7v7h-7zM447 79h7v7h-7zM453 79h7v7h-7zM458 79h7v7h-7zM469 79h7v7h-7zM486 79h7v7h-7zM497 79h7v7h-7zM500 79h7v7h-7zM514 79h7v7h-7zM387 72h7v7h-7zM416 72h7v7h-7zM429 72h7v7h-7zM439 72h7v7h-7zM447 72h7v7h-7zM470 72h7v7h-7zM475 72h7v7h-7zM484 72h7v7h-7zM496 72h7v7h-7zM501 72h7v7h-7zM529 72h7v7h-7zM359 65h7v7h-7zM413 65h7v7h-7zM415 65h7v7h-7zM426 65h7v7h-7zM429 65h7v7h-7zM452 65h7v7h-7zM467 65h7v7h-7zM478 65h7v7h-7zM494 65h7v7h-7zM497 65h7v7h-7zM501 65h7v7h-7zM530 65h7v7h-7zM377 58h7v7h-7zM417 58h7v7h-7zM431 58h7v7h-7zM446 58h7v7h-7zM460 58h7v7h-7zM471 58h7v7h-7zM475 58h7v7h-7zM478 58h7v7h-7zM488 58h7v7h-7zM496 58h7v7h-7zM502 58h7v7h-7zM527 58h7v7h-7z" fill="#ff0000"/></g>
<g stroke="#000" stroke-width="1" fill="none" shape-rendering="crispEdges"><rect x="74.5" y="57.5" width="535" height="362"/></g>
<text x="234" y="32" font-size="16" letter-spacing="0.048">Occultations from 2026-03-25</text><text x="339" y="471" font-size="16" text-anchor="middle">HCl VMR</text><text transform="translate(18.5,239) rotate(-90)" font-size="16" text-anchor="middle">Altitude (km)</text><text x="61" y="424.6" font-size="16" text-anchor="end">5</text><text x="61" y="388.4" font-size="16" text-anchor="end">10</text><text x="61" y="352.2" font-size="16" text-anchor="end">15</text><text x="61" y="316" font-size="16" text-anchor="end">20</text><text x="61" y="279.8" font-size="16" text-anchor="end">25</text><text x="61" y="243.6" font-size="16" text-anchor="end">30</text><text x="61" y="207.4" font-size="16" text-anchor="end">35</text><text x="61" y="171.2" font-size="16" text-anchor="end">40</text><text x="61" y="135" font-size="16" text-anchor="end">45</text><text x="61" y="98.8" font-size="16" text-anchor="end">50</text><text x="61" y="62.6" font-size="16" text-anchor="end">55</text><text transform="translate(77,440.1) rotate(-45)" font-size="10.67" text-anchor="middle">-5.0e-10</text><text transform="translate(130.5,440.1) rotate(-45)" font-size="10.67" text-anchor="middle">0.0e+00</text><text transform="translate(183.1,441) rotate(-45)" font-size="10.67" text-anchor="middle">5.0e-10</text><text transform="translate(236.6,441) rotate(-45)" font-size="10.67" text-anchor="middle">1.0e-09</text><text transform="translate(290.1,441) rotate(-45)" font-size="10.67" text-anchor="middle">1.5e-09</text><text transform="translate(343.6,441) rotate(-45)" font-size="10.67" text-anchor="middle">2.0e-09</text><text transform="translate(397.1,441) rotate(-45)" font-size="10.67" text-anchor="middle">2.5e-09</text><text transform="translate(450.6,441) rotate(-45)" font-size="10.67" text-anchor="middle">3.0e-09</text><text transform="translate(504.1,441) rotate(-45)" font-size="10.67" text-anchor="middle">3.5e-09</text><text transform="translate(557.6,441) rotate(-45)" font-size="10.67" text-anchor="middle">4.0e-09</text><text transform="translate(611.1,441) rotate(-45)" font-size="10.67" text-anchor="middle">4.5e-09</text>
</svg></body></html>
